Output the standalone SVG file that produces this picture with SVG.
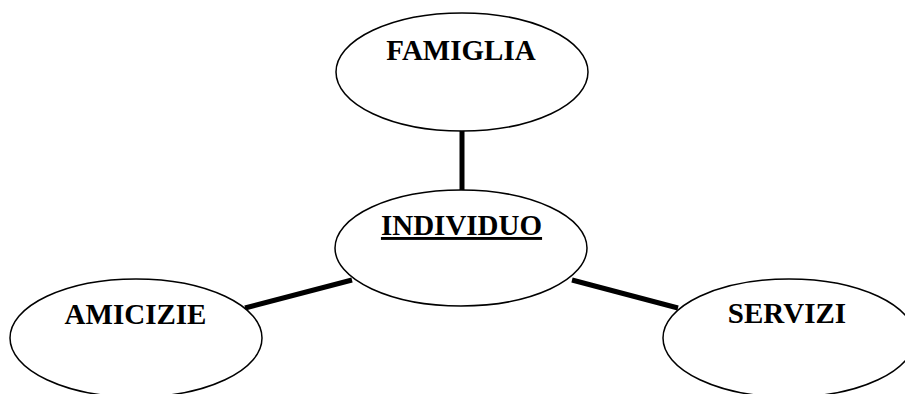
<svg xmlns="http://www.w3.org/2000/svg" width="905" height="394" viewBox="0 0 905 394">
  <style>
    .node { fill: #fff; stroke: #000; stroke-width: 1.5; }
    .label { font-family: "Liberation Serif", "Times New Roman", serif; font-weight: bold; font-size: 29px; fill: #000; text-anchor: middle; }
    .link { stroke: #000; stroke-width: 5; fill: none; }
  </style>
  <rect width="905" height="394" fill="#fff"/>
  <g id="connectors">
    <line class="link" x1="462" y1="131" x2="462" y2="190"/>
    <line class="link" x1="245" y1="308" x2="352" y2="280"/>
    <line class="link" x1="572" y1="280" x2="678" y2="308"/>
  </g>
  <g id="famiglia">
    <ellipse class="node" cx="462" cy="72" rx="126" ry="59"/>
    <text class="label" x="461" y="60">FAMIGLIA</text>
  </g>
  <g id="individuo">
    <ellipse class="node" cx="461" cy="248" rx="126" ry="58"/>
    <text class="label" x="461.5" y="235" text-decoration="underline">INDIVIDUO</text>
  </g>
  <g id="amicizie">
    <ellipse class="node" cx="136" cy="338" rx="126" ry="59"/>
    <text class="label" x="135.5" y="324">AMICIZIE</text>
  </g>
  <g id="servizi">
    <ellipse class="node" cx="789" cy="338" rx="126" ry="59"/>
    <text class="label" x="787" y="323">SERVIZI</text>
  </g>
</svg>
